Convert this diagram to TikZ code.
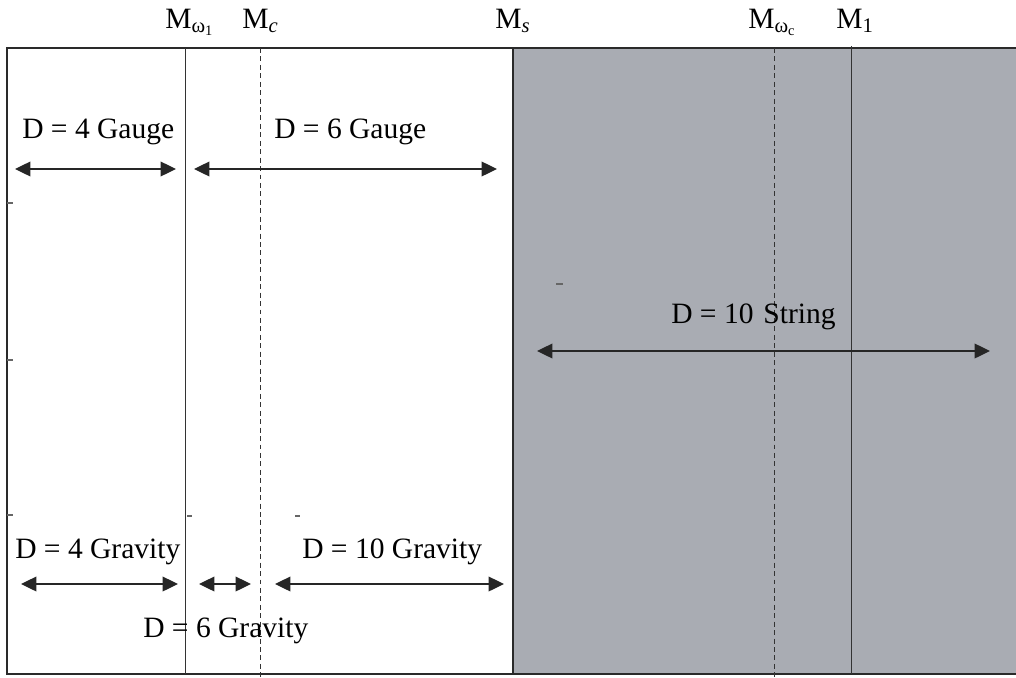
\documentclass[tikz,border=0pt]{standalone}
\usepackage{fontspec}
\setmainfont{Liberation Serif}
\usepackage{xcolor}
\usetikzlibrary{positioning,arrows.meta}
\definecolor{stringGray}{HTML}{A9ACB3}
\definecolor{frameDark}{HTML}{2A2A2A}

\begin{document}
\begin{tikzpicture}[x=0.025cm, y=-0.025cm,
  font=\fontsize{21}{25}\selectfont,
  dim/.style={{Triangle[length=11pt,width=10.5pt]}-{Triangle[length=11pt,width=10.5pt]}, line width=1pt, draw=black!85},
  mlabel/.style={anchor=base west, inner sep=0pt},
  dlabel/.style={anchor=base west, inner sep=0pt},
  scaleline/.style={line width=0.6pt, draw=black!80},
  tickmark/.style={line width=0.8pt, draw=black!60}]
\useasboundingbox (0,0) rectangle (1016,677);
% regions
\fill[stringGray] (513,48) rectangle (1016,674);
\draw[line width=1.3pt, frameDark] (1016,48) -- (7,48) -- (7,674) -- (1016,674);
\draw[line width=1.3pt, frameDark] (513,48) -- (513,674);
% scale lines
\coordinate (w1top) at (185,48);  \coordinate (w1bot) at (185,674);
\coordinate (ctop) at (260,48);   \coordinate (cbot) at (260,678);
\coordinate (wctop) at (774,48);  \coordinate (wcbot) at (774,678);
\coordinate (onetop) at (851,46); \coordinate (onebot) at (851,674);
\draw[scaleline] (w1top) -- (w1bot);
\draw[scaleline, dash pattern=on 3.5pt off 2.5pt] (ctop) -- (cbot);
\draw[scaleline, dash pattern=on 3.5pt off 2.5pt] (wctop) -- (wcbot);
\draw[scaleline] (onetop) -- (onebot);
% small marks
\foreach \ty in {203,360,515} \draw[tickmark] (7,\ty) -- (13,\ty);
\draw[tickmark] (187,516) -- (192,516);
\draw[tickmark] (295,516) -- (300,516);
\draw[tickmark] (556,284) -- (563,284);
% mass labels
\node[mlabel] (mw1) at (165,28) {M\textsubscript{ω\textsubscript{1}}};
\node[mlabel] (mc) at (242,28) {M\textsubscript{\textit{c}}};
\node[mlabel] (ms) at (495,28) {M\textsubscript{\textit{s}}};
\node[mlabel] (mwc) at (748,28) {M\textsubscript{ω\textsubscript{c}}};
\node[mlabel] (mone) at (836,28) {M\textsubscript{1}};
% regimes
\node[dlabel] (g4) at (22,138) {D = 4 Gauge};
\node[dlabel] (g6) at (274,138) {D = 6 Gauge};
\node[dlabel] (s10) at (671,323) {D = 10\,\,String};
\node[dlabel] (gr4) at (15,558) {D = 4 Gravity};
\node[dlabel] (gr10) at (302,558) {D = 10 Gravity};
\node[dlabel] (gr6) at (143,637) {D = 6 Gravity};
\coordinate (g4a) at (15,169);   \coordinate (g4b) at (176,169);
\coordinate (g6a) at (194,169);  \coordinate (g6b) at (497,169);
\coordinate (s10a) at (537,351); \coordinate (s10b) at (990,351);
\coordinate (gr4a) at (21,584);  \coordinate (gr4b) at (178,584);
\coordinate (gr6a) at (199,584); \coordinate (gr6b) at (251,584);
\coordinate (gr10a) at (275,584); \coordinate (gr10b) at (504,584);
\draw[dim] (g4a) -- (g4b);
\draw[dim] (g6a) -- (g6b);
\draw[dim] (s10a) -- (s10b);
\draw[dim] (gr4a) -- (gr4b);
\draw[dim] (gr6a) -- (gr6b);
\draw[dim] (gr10a) -- (gr10b);
\end{tikzpicture}
\end{document}
